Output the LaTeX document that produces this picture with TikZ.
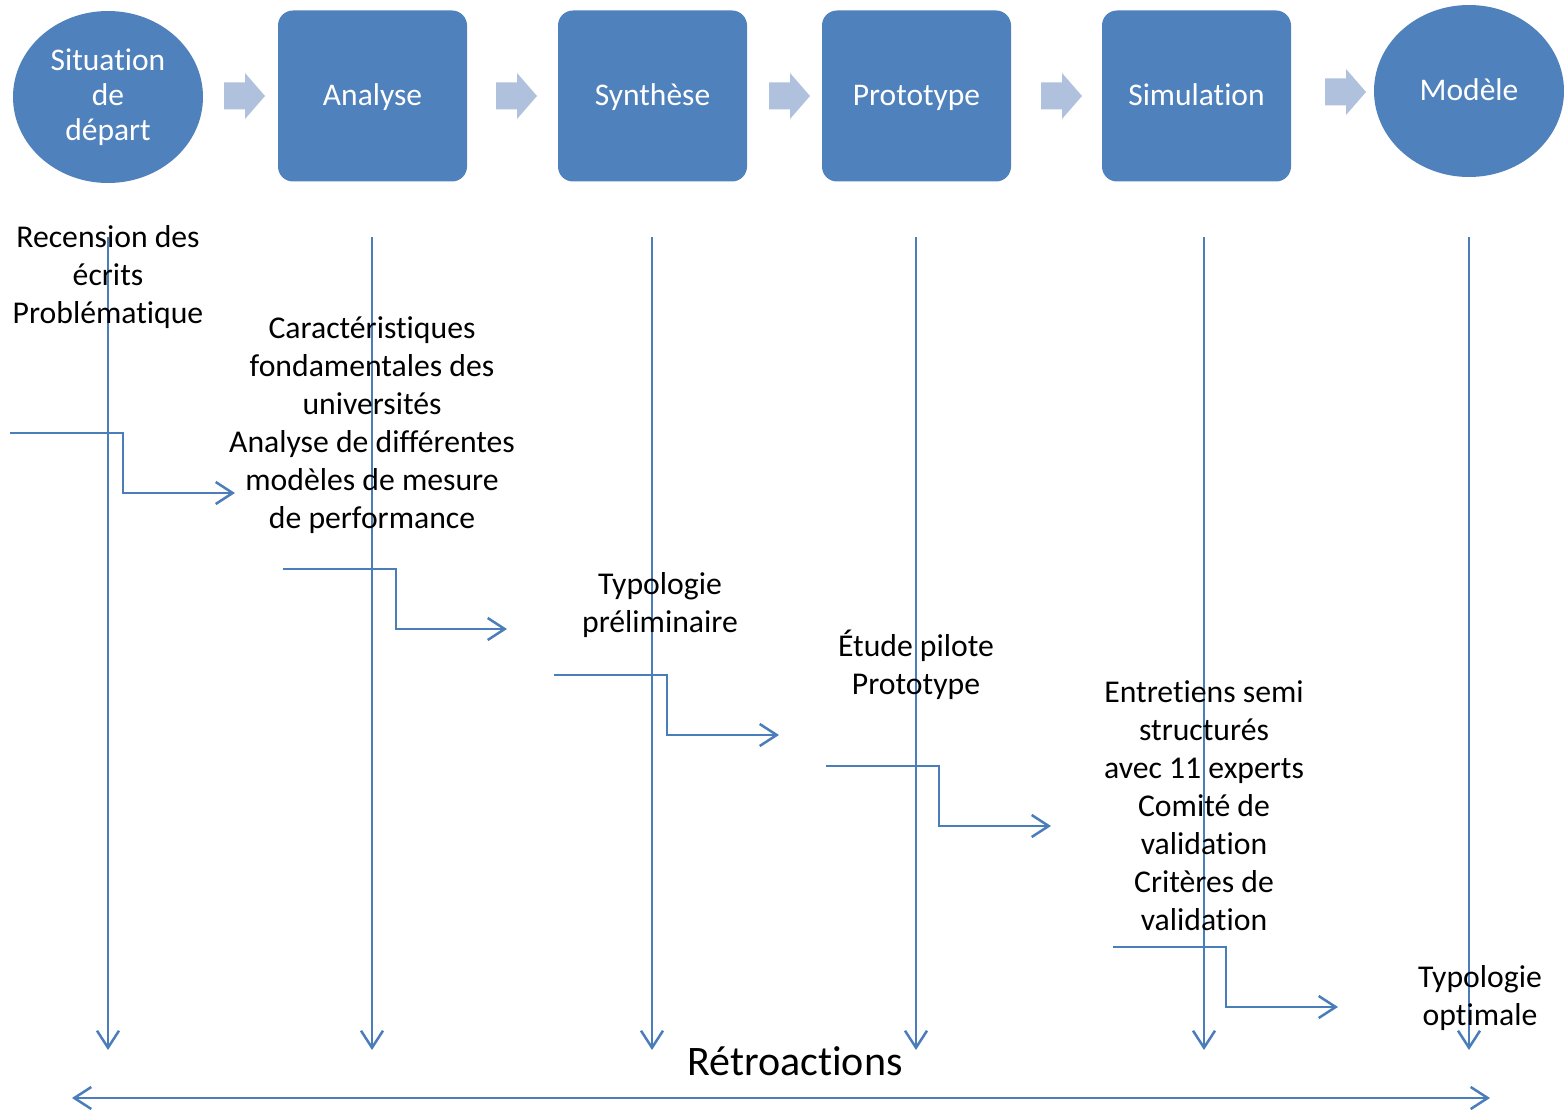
\documentclass[tikz,border=0pt]{standalone}
\usepackage{fontspec}
\setmainfont[Ligatures=NoCommon]{Carlito}
\usetikzlibrary{shapes.geometric,arrows.meta}
\definecolor{boxblue}{HTML}{4F81BD}
\definecolor{arrowblue}{HTML}{B0C1DE}
\definecolor{lineblue}{HTML}{4A7EBB}
\newcommand\blockarr[2]{%
  \fill[arrowblue] ({#1},{#2-13.5}) -- ({#1+21},{#2-13.5}) -- ({#1+21},{#2-23}) -- ({#1+41},{#2}) -- ({#1+21},{#2+23}) -- ({#1+21},{#2+13.5}) -- ({#1},{#2+13.5}) -- cycle;}
\begin{document}
\begin{tikzpicture}[x=1pt,y=-1pt,
  stage/.style={fill=boxblue,draw=none,text=white,font=\fontsize{31.5}{35}\selectfont,align=center,inner sep=0pt},
  boxstage/.style={stage,rectangle,rounded corners=15pt,minimum width=189pt,minimum height=171pt,text height=20pt,text depth=0pt},
  ovalstage/.style={stage,ellipse,minimum width=190pt,minimum height=172pt},
  lbl/.style={font=\fontsize{31.7}{38}\selectfont,align=center,inner sep=0pt},
  conn/.style={draw=lineblue,line width=2.5pt,-{Straight Barb[length=17pt,width=22pt]}},
  dconn/.style={draw=lineblue,line width=2.5pt,{Straight Barb[length=17pt,width=22pt]}-{Straight Barb[length=17pt,width=22pt]}}
]
\useasboundingbox (0,0) rectangle (1564,1110);
\fill[white] (0,0) rectangle (1564,1110);

% stages
\node[ovalstage] (sit) at (108,97) {Situation\\de\\départ};
\node[boxstage] (ana) at (372.5,96) {Analyse};
\node[boxstage] (syn) at (652.5,96) {Synthèse};
\node[boxstage] (pro) at (916.5,96) {Prototype};
\node[boxstage] (sim) at (1196.5,96) {Simulation};
\node[ovalstage,text height=20pt,text depth=0pt] (mod) at (1469,91) {Modèle};

% block arrows
\blockarr{224}{96}
\blockarr{496}{96}
\blockarr{769}{96}
\blockarr{1041}{96}
\blockarr{1325}{92}

% vertical line coordinates
\coordinate (v1t) at (108,237);  \coordinate (v1b) at (108,1050);
\coordinate (v2t) at (372,237);  \coordinate (v2b) at (372,1050);
\coordinate (v3t) at (652,237);  \coordinate (v3b) at (652,1050);
\coordinate (v4t) at (916,237);  \coordinate (v4b) at (916,1050);
\coordinate (v5t) at (1204,237); \coordinate (v5b) at (1204,1050);
\coordinate (v6t) at (1469,237); \coordinate (v6b) at (1469,1050);

\foreach \i in {1,...,6} {\draw[conn] (v\i t) -- (v\i b);}

% elbow connectors
\coordinate (e1a) at (10,433);   \coordinate (e1b) at (235,493);
\coordinate (e2a) at (283,569);  \coordinate (e2b) at (507,629);
\coordinate (e3a) at (554,675);  \coordinate (e3b) at (779,735);
\coordinate (e4a) at (826,766);  \coordinate (e4b) at (1051,826);
\coordinate (e5a) at (1113,947); \coordinate (e5b) at (1338,1007);
\foreach \i in {1,...,5} {\draw[conn] (e\i a) -- ++(113,0) |- (e\i b);}

% feedback
\coordinate (fl) at (72,1098); \coordinate (fr) at (1490,1098);
\draw[dconn] (fl) -- (fr);

% labels
\node[lbl] (rec) at (108,277) {Recension des\\écrits\\Problématique};
\node[lbl] (car) at (372,425) {Caractéristiques\\fondamentales des\\universités\\Analyse de différentes\\modèles de mesure\\de performance};
\node[lbl] (typ) at (660,605) {Typologie\\préliminaire};
\node[lbl] (etu) at (916,665) {Étude pilote\\Prototype};
\node[lbl] (ent) at (1204,806) {Entretiens semi\\structurés\\avec 11 experts\\Comité de\\validation\\Critères de\\validation};
\node[lbl] (opt) at (1480,998) {Typologie\\optimale};
\node[font=\fontsize{42}{50}\selectfont,inner sep=0pt] (retro) at (795,1061) {Rétroactions};
\end{tikzpicture}
\end{document}
